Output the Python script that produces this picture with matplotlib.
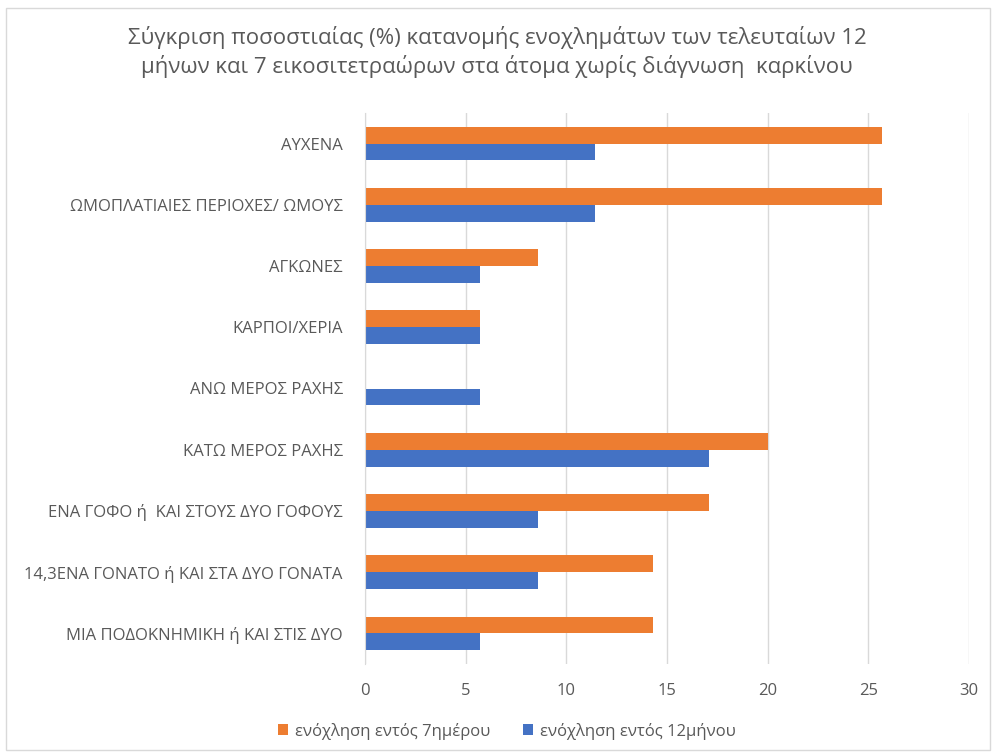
import matplotlib
matplotlib.use('Agg')
import matplotlib.pyplot as plt
import numpy as np

plt.rcParams['font.family'] = ['Open Sans', 'DejaVu Sans']

categories = ['ΑΥΧΕΝΑ', 'ΩΜΟΠΛΑΤΙΑΙΕΣ ΠΕΡΙΟΧΕΣ/ ΩΜΟΥΣ', 'ΑΓΚΩΝΕΣ', 'ΚΑΡΠΟΙ/ΧΕΡΙΑ',
              'ΑΝΩ ΜΕΡΟΣ ΡΑΧΗΣ', 'ΚΑΤΩ ΜΕΡΟΣ ΡΑΧΗΣ', 'ΕΝΑ ΓΟΦΟ ή  ΚΑΙ ΣΤΟΥΣ ΔΥΟ ΓΟΦΟΥΣ',
              '14,3ΕΝΑ ΓΟΝΑΤΟ ή ΚΑΙ ΣΤΑ ΔΥΟ ΓΟΝΑΤΑ', 'ΜΙΑ ΠΟΔΟΚΝΗΜΙΚΗ ή ΚΑΙ ΣΤΙΣ ΔΥΟ']
week = [25.7, 25.7, 8.6, 5.7, 0, 20.0, 17.1, 14.3, 14.3]
year = [11.4, 11.4, 5.7, 5.7, 5.7, 17.1, 8.6, 8.6, 5.7]
xticks = [0, 5, 10, 15, 20, 25, 30]

orange = '#ED7D31'
blue = '#4472C4'
txt = '#595959'
grid = '#D9D9D9'

W, H = 994, 755
fig = plt.figure(figsize=(W / 100, H / 100), dpi=100)

# chart frame
fig.patches.append(plt.Rectangle((6 / W, 5 / H), 984 / W, 742 / H, transform=fig.transFigure,
                                 fill=False, edgecolor='#D9D9D9', linewidth=1))

ax = fig.add_axes([365 / W, 1 - 664 / H, 604 / W, 551 / H])
y = np.arange(len(categories))
h = 0.275
ax.barh(y - h / 2, week, height=h, color=orange, label='ενόχληση εντός 7ημέρου')
ax.barh(y + h / 2, year, height=h, color=blue, label='ενόχληση εντός 12μήνου')

ax.set_xlim(0, 30)
ax.set_ylim(len(categories) - 0.5, -0.5)
ax.set_xticks(xticks)
ax.set_yticks(y)
ax.set_yticklabels(categories)
ax.xaxis.grid(True, color=grid, linewidth=1)
ax.set_axisbelow(True)
for s in ['top', 'right', 'bottom']:
    ax.spines[s].set_visible(False)
ax.spines['left'].set_color(grid)
ax.tick_params(axis='both', length=0, colors=txt, labelsize=12)
ax.tick_params(axis='x', pad=14)
ax.tick_params(axis='y', pad=16)

fig.text(0.5, 1 - 52 / H, 'Σύγκριση ποσοστιαίας (%) κατανομής ενοχλημάτων των τελευταίων 12\n'
         'μήνων και 7 εικοσιτετραώρων στα άτομα χωρίς διάγνωση  καρκίνου',
         ha='center', va='center', fontsize=16, color=txt, linespacing=1.3)

fig.legend(loc='center', bbox_to_anchor=(0.51, 1 - 731 / H), ncol=2, frameon=False,
           fontsize=12, labelcolor=txt, handlelength=0.6, handleheight=0.6,
           handletextpad=0.4, columnspacing=2.0)

fig.savefig('out.png', dpi=100, facecolor='white')
